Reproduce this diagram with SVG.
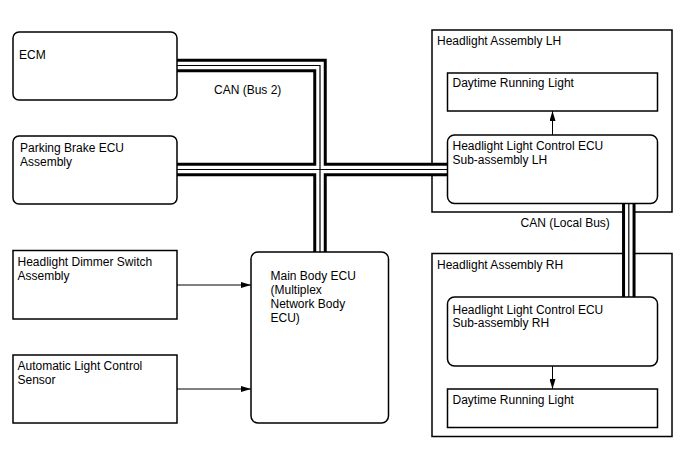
<svg xmlns="http://www.w3.org/2000/svg" width="688" height="463" viewBox="0 0 688 463">
<style>
.box{fill:#fff;stroke:#000;stroke-width:1.5}
.t{font-family:"Liberation Sans",Arial,sans-serif;font-size:12px;fill:#000}
.bo{fill:none;stroke:#000;stroke-width:13.5}
.bw{fill:none;stroke:#fff;stroke-width:7.5}
.bc{fill:none;stroke:#000;stroke-width:1.2}
.ar{fill:none;stroke:#000;stroke-width:1}
</style>
<defs>
<marker id="ah" markerWidth="10" markerHeight="6" refX="10" refY="3" orient="auto" markerUnits="userSpaceOnUse">
<path d="M0,0 L10,3 L0,6 Z" fill="#000"/>
</marker>
</defs>
<rect width="688" height="463" fill="#fff"/>
<g id="hl-lh-assembly">
<rect class="box" x="432" y="30" width="240" height="182"/>
<text class="t" x="437" y="45">Headlight Assembly LH</text>
</g>
<g id="hl-rh-assembly">
<rect class="box" x="432" y="253.5" width="240" height="183"/>
<text class="t" x="437" y="268.5">Headlight Assembly RH</text>
</g>
<g id="connectors">
<path class="bo" d="M177,65.5 H320 V252"/>
<path class="bo" d="M177,169.5 H447.5"/>
<path class="bo" d="M628.8,203 V297"/>
<path class="bw" d="M177,65.5 H320 V252"/>
<path class="bw" d="M177,169.5 H447.5"/>
<path class="bw" d="M628.8,203 V297"/>
<path class="bc" d="M177,65.5 H320 V252"/>
<path class="bc" d="M177,169.5 H447.5"/>
<path class="bc" d="M628.8,203 V297"/>
<path class="ar" d="M177,285 H251" marker-end="url(#ah)"/>
<path class="ar" d="M177,389 H251" marker-end="url(#ah)"/>
<path class="ar" d="M552.5,135 V111" marker-end="url(#ah)"/>
<path class="ar" d="M552.5,366 V389" marker-end="url(#ah)"/>
<text class="t" x="214" y="94">CAN (Bus 2)</text>
<text class="t" x="520.5" y="227">CAN (Local Bus)</text>
</g>
<g id="ecm">
<rect class="box" x="13" y="32" width="164" height="68" rx="6"/>
<text class="t" x="19" y="58.5">ECM</text>
</g>
<g id="parking-brake-ecu">
<rect class="box" x="13" y="136" width="164" height="68" rx="6"/>
<text class="t" x="20" y="152">Parking Brake ECU</text>
<text class="t" x="20" y="166">Assembly</text>
</g>
<g id="dimmer-switch">
<rect class="box" x="13" y="250.5" width="164" height="68.5"/>
<text class="t" x="17.5" y="266">Headlight Dimmer Switch</text>
<text class="t" x="17.5" y="279.5">Assembly</text>
</g>
<g id="auto-light-sensor">
<rect class="box" x="13" y="355" width="164" height="68"/>
<text class="t" x="17.5" y="370">Automatic Light Control</text>
<text class="t" x="17.5" y="383.5">Sensor</text>
</g>
<g id="main-body-ecu">
<rect class="box" x="251" y="252" width="137.5" height="171" rx="7"/>
<text class="t" x="270.5" y="279.5">Main Body ECU</text>
<text class="t" x="270.5" y="293.5">(Multiplex</text>
<text class="t" x="270.5" y="307.5">Network Body</text>
<text class="t" x="270.5" y="321.5">ECU)</text>
</g>
<g id="drl-lh">
<rect class="box" x="447.5" y="73" width="210" height="38"/>
<text class="t" x="452.5" y="87">Daytime Running Light</text>
</g>
<g id="hl-ecu-lh">
<rect class="box" x="447.5" y="135" width="210" height="68.5" rx="7"/>
<text class="t" x="452.5" y="150">Headlight Light Control ECU</text>
<text class="t" x="452.5" y="164">Sub-assembly LH</text>
</g>
<g id="hl-ecu-rh">
<rect class="box" x="447.5" y="297" width="210" height="69" rx="7"/>
<text class="t" x="452.5" y="313.5">Headlight Light Control ECU</text>
<text class="t" x="452.5" y="327">Sub-assembly RH</text>
</g>
<g id="drl-rh">
<rect class="box" x="447.5" y="389" width="210" height="38.5"/>
<text class="t" x="452.5" y="403.5">Daytime Running Light</text>
</g>
</svg>
